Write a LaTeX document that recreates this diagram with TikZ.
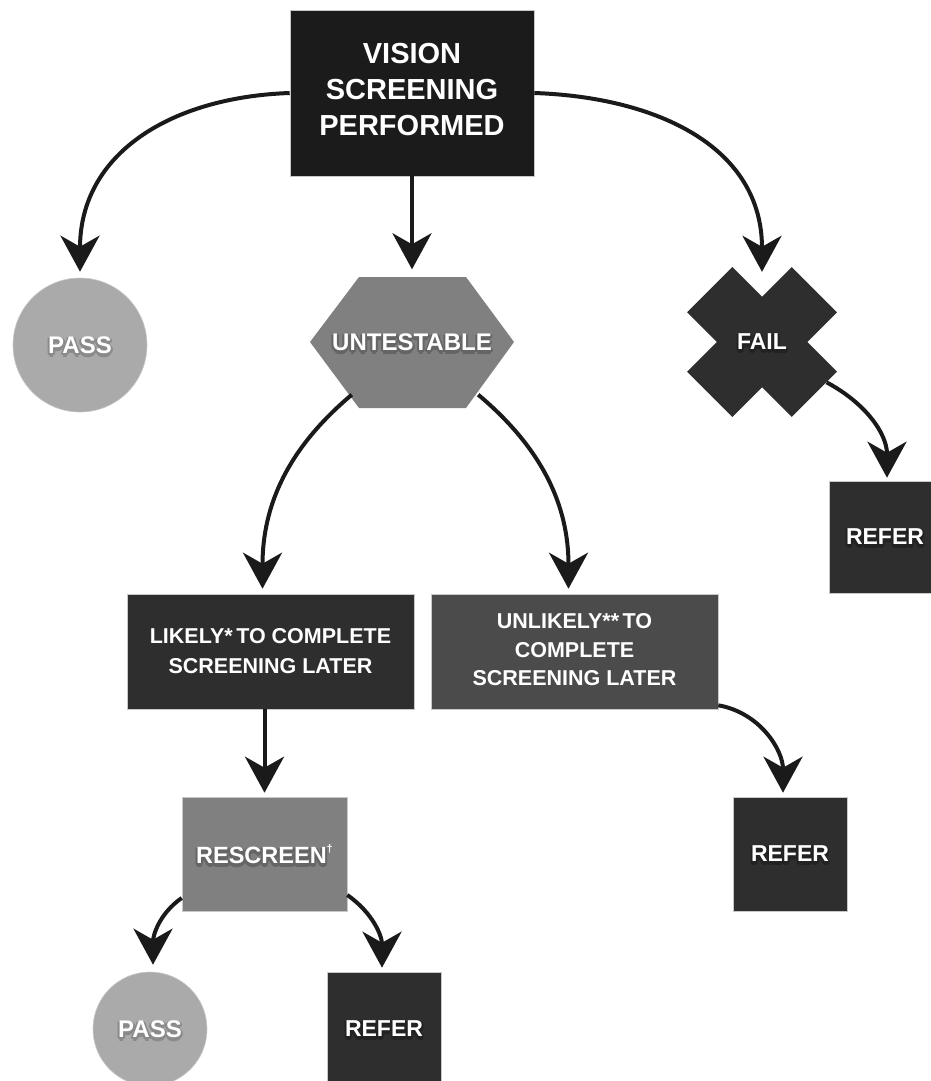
\documentclass[tikz,border=0pt]{standalone}
\usepackage{fontspec}
\setmainfont{Liberation Sans}
\usetikzlibrary{arrows.meta,calc}
\definecolor{arrowc}{HTML}{1A1A1A}
\definecolor{topfill}{HTML}{1B1B1B}
\definecolor{passfill}{HTML}{AAAAAA}
\definecolor{midfill}{HTML}{808080}
\definecolor{darkfill}{HTML}{2E2E2E}
\definecolor{unlfill}{HTML}{4B4B4B}
\definecolor{edgec}{HTML}{C8C8C8}
\definecolor{shmid}{HTML}{656565}
\definecolor{shpass}{HTML}{8A8A8A}
\definecolor{shdark}{HTML}{222222}
% soft drop shadow behind a one-line label: #1 shadow colour, #2 text
\newcommand{\shd}[2]{\leavevmode\rlap{\smash{\color{#1}%
  \rlap{\hspace{-1.5pt}\raisebox{-2.5pt}{#2}}%
  \rlap{\hspace{1.5pt}\raisebox{-2.5pt}{#2}}%
  \rlap{\raisebox{-4pt}{#2}}%
  \rlap{\hspace{2pt}\raisebox{-1pt}{#2}}%
  \rlap{\hspace{-2pt}\raisebox{-1pt}{#2}}}}#2}
\tikzset{
  box/.style={rectangle, draw=edgec, line width=0.6pt, text=white, font=\bfseries, align=center, inner sep=0pt},
  disc/.style={circle, draw=edgec, line width=0.6pt, fill=passfill, text=white, font=\bfseries\fontsize{24}{24}\selectfont, inner sep=0pt},
  lbl/.style={text=white, font=\bfseries\fontsize{24}{24}\selectfont, inner sep=0pt, align=center},
  conn/.style={line width=4pt, draw=arrowc, -{Stealth[length=36pt,width=39pt,inset=11pt]}},
}
\begin{document}
\begin{tikzpicture}[x=1pt,y=1pt]
\useasboundingbox (0,0) rectangle (931,-1081);
% top box
\node[box, fill=topfill, minimum width=244pt, minimum height=166pt, font=\bfseries\fontsize{29}{36}\selectfont] (top) at (412,-93) {VISION\\SCREENING\\PERFORMED\rule[-8pt]{0pt}{8pt}};
% PASS (top-left)
\node[disc, minimum size=134pt] (pass1) at (80,-345) {\shd{shpass}{PASS}};
% UNTESTABLE hexagon
\fill[midfill] (310,-342) -- (359,-277) -- (466,-277) -- (514,-342) -- (466,-408) -- (359,-408) -- cycle;
\node[lbl, minimum width=204pt, minimum height=131pt] (untestable) at (412,-342) {\shd{shmid}{UNTESTABLE}};
% FAIL cross
\fill[darkfill, shift={(762,-342)}, rotate=45] (-32,74) -- (32,74) -- (32,32) -- (74,32) -- (74,-32) -- (32,-32) -- (32,-74) -- (-32,-74) -- (-32,-32) -- (-74,-32) -- (-74,32) -- (-32,32) -- cycle;
\node[lbl, circle, minimum size=152pt, font=\bfseries\fontsize{23}{23}\selectfont] (fail) at (762,-342) {\shd{shdark}{FAIL}};
% REFER right
\node[box, fill=darkfill, minimum width=112pt, minimum height=112pt, font=\bfseries\fontsize{23}{23}\selectfont] (refer1) at (885,-537) {\shd{shdark}{REFER}};
% LIKELY / UNLIKELY
\node[box, fill=darkfill, minimum width=287pt, minimum height=115pt, font=\bfseries\fontsize{21.5}{30}\selectfont] (likely) at (270.5,-651.5) {LIKELY*\,TO COMPLETE\\SCREENING LATER};
\node[box, fill=unlfill, minimum width=287pt, minimum height=115pt, font=\bfseries\fontsize{21.5}{28.5}\selectfont] (unlikely) at (574.5,-651.5) {UNLIKELY**\,TO\\COMPLETE\\SCREENING LATER\rule[-4pt]{0pt}{4pt}};
% RESCREEN
\node[box, fill=midfill, minimum width=165pt, minimum height=114pt, font=\bfseries\fontsize{23.5}{23.5}\selectfont] (rescreen) at (264.5,-854) {\shd{shmid}{RESCREEN}\raisebox{0.5em}{\fontsize{11}{11}\selectfont †}};
% REFER middle right
\node[box, fill=darkfill, minimum width=114pt, minimum height=114pt, font=\bfseries\fontsize{23}{23}\selectfont] (refer2) at (790,-854) {\shd{shdark}{REFER}};
% bottom PASS / REFER
\node[disc, minimum size=114pt] (pass2) at (150,-1029) {\shd{shpass}{PASS}};
\node[box, fill=darkfill, minimum width=114pt, minimum height=114pt, font=\bfseries\fontsize{23}{23}\selectfont] (refer3) at (384,-1029) {\shd{shdark}{REFER}};
% connectors
\draw[conn] (top.west) to[out=182,in=90,looseness=1.1] ([yshift=6pt]pass1.north);
\draw[conn] (top.south) -- ([yshift=7pt]untestable.north);
\draw[conn] (top.east) to[out=-2,in=90,looseness=1.1] ([yshift=-6pt]fail.north);
\draw[conn] ([xshift=42pt,yshift=13pt]untestable.south west) to[out=-140,in=90] ([xshift=-8pt,yshift=5pt]likely.north);
\draw[conn] ([xshift=-36pt,yshift=13pt]untestable.south east) to[out=-40,in=90] ([xshift=-6pt,yshift=5pt]unlikely.north);
\draw[conn] (fail.-32) to[out=-28,in=90] ([xshift=2pt,yshift=3pt]refer1.north);
\draw[conn] (likely.south -| rescreen.north) -- ([yshift=4pt]rescreen.north);
\draw[conn] ([yshift=4pt]unlikely.south east) to[out=-10,in=90] ([xshift=-7pt,yshift=4pt]refer2.north);
\draw[conn] ([yshift=-44pt]rescreen.west) to[out=-145,in=90] ([xshift=3pt,yshift=7pt]pass2.north);
\draw[conn] ([yshift=-41pt]rescreen.east) to[out=-35,in=90] ([xshift=-2pt,yshift=4pt]refer3.north);
\end{tikzpicture}
\end{document}
